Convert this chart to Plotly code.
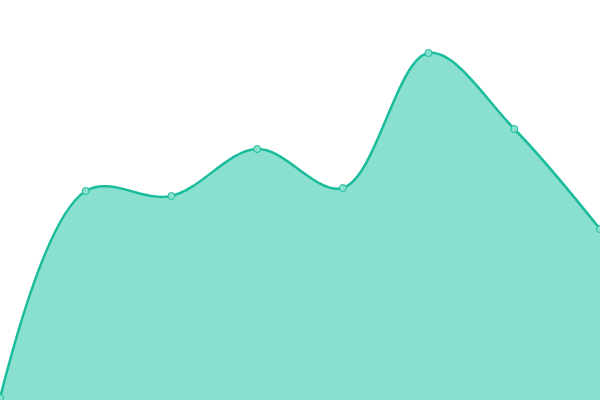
import plotly.graph_objects as go

# evenly spaced points
steps = [0, 1, 2, 3, 4, 5, 6, 7]
values = [2, 209, 204, 251, 212, 347, 271, 171]

LINE = "#1ABC9C"
FILL = "#89E0CF"

fig = go.Figure()
fig.add_trace(
    go.Scatter(
        x=steps,
        y=values,
        mode="lines+markers",
        line=dict(color=LINE, width=2.5, shape="spline", smoothing=1),
        marker=dict(size=7, color=FILL, line=dict(color=LINE, width=1)),
        fill="tozeroy",
        fillcolor=FILL,
        hoverinfo="skip",
    )
)

fig.update_layout(
    width=600,
    height=400,
    margin=dict(l=0, r=0, t=0, b=0),
    paper_bgcolor="white",
    plot_bgcolor="white",
    showlegend=False,
    xaxis=dict(visible=False, range=[0, 7]),
    yaxis=dict(visible=False, range=[0, 400]),
)

# drop the browser's default body margin so the chart fills the window
fig.write_html(
    "out.html",
    config={"displayModeBar": False},
    post_script="document.body.style.margin = '0';",
)
